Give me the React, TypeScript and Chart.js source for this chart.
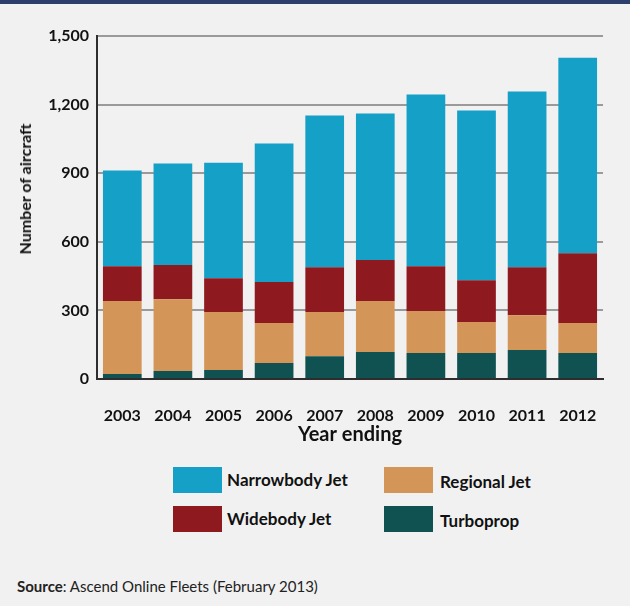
import React, { useEffect, useRef } from "react";
import { Chart, registerables } from "chart.js";

Chart.register(...registerables);

const years = ["2003", "2004", "2005", "2006", "2007", "2008", "2009", "2010", "2011", "2012"];
const turboprop = [22, 35, 39, 70, 100, 118, 114, 114, 127, 114];
const regionalJet = [319, 314, 254, 175, 193, 223, 183, 135, 152, 131];
const widebodyJet = [152, 149, 148, 179, 196, 179, 196, 183, 210, 305];
const narrowbodyJet = [419, 444, 505, 606, 663, 641, 751, 742, 768, 855];
const yTicks = [0, 300, 600, 900, 1200, 1500];

const COLORS = {
  narrow: "#14a0c7",
  regional: "#d49658",
  wide: "#8e191e",
  turbo: "#105252",
};

const FONT = "Lato, 'Open Sans', sans-serif";

export default function App() {
  const ref = useRef<HTMLCanvasElement>(null);

  useEffect(() => {
    if (!ref.current) return;
    const chart = new Chart(ref.current, {
      type: "bar",
      data: {
        labels: years,
        datasets: [
          { label: "Turboprop", data: turboprop, backgroundColor: COLORS.turbo },
          { label: "Regional Jet", data: regionalJet, backgroundColor: COLORS.regional },
          { label: "Widebody Jet", data: widebodyJet, backgroundColor: COLORS.wide },
          { label: "Narrowbody Jet", data: narrowbodyJet, backgroundColor: COLORS.narrow },
        ],
      },
      options: {
        responsive: false,
        animation: false,
        devicePixelRatio: 1,
        layout: { padding: { top: 36, right: 27, left: 0, bottom: 0 } },
        datasets: { bar: { categoryPercentage: 1, barPercentage: 0.765, borderWidth: 0 } },
        plugins: { legend: { display: false }, tooltip: { enabled: false } },
        scales: {
          x: {
            stacked: true,
            grid: { display: false },
            border: { display: true, color: "#2e2e2e", width: 2 },
            ticks: {
              color: "#111",
              padding: 19,
              font: { family: FONT, size: 16, weight: "bold" },
            },
            title: {
              display: true,
              text: "Year ending",
              color: "#111",
              font: { family: FONT, size: 20, weight: "bold" },
              padding: { top: 0, bottom: 3 },
            },
            afterFit: (s: any) => {
              s.height = 71;
            },
          },
          y: {
            stacked: true,
            min: 0,
            max: 1500,
            afterBuildTicks: (s: any) => {
              s.ticks = yTicks.map((v) => ({ value: v }));
            },
            grid: { color: "#9a9a9a", lineWidth: 2, drawTicks: false },
            border: { display: true, color: "#2e2e2e", width: 2 },
            ticks: {
              color: "#111",
              padding: 8,
              font: { family: FONT, size: 16, weight: "bold" },
              callback: (v: any) => Number(v).toLocaleString("en-US"),
            },
            title: { display: false },
            afterFit: (s: any) => {
              s.width = 97;
            },
          },
        },
      },
    });
    return () => chart.destroy();
  }, []);

  const legendItems = [
    { label: "Narrowbody Jet", color: COLORS.narrow, left: 173, top: 467, textLeft: 227 },
    { label: "Regional Jet", color: COLORS.regional, left: 384, top: 467, textLeft: 440 },
    { label: "Widebody Jet", color: COLORS.wide, left: 173, top: 506, textLeft: 227 },
    { label: "Turboprop", color: COLORS.turbo, left: 384, top: 506, textLeft: 440 },
  ];

  return (
    <div
      style={{
        position: "fixed",
        left: 0,
        top: 0,
        width: 630,
        height: 606,
        background: "#f1f1f1",
        overflow: "hidden",
        fontFamily: FONT,
      }}
    >
      <canvas
        ref={ref}
        width={630}
        height={450}
        style={{ position: "absolute", left: 0, top: 0, width: 630, height: 450 }}
      />
      <div style={{ position: "absolute", left: 0, top: 0, width: 630, height: 4, background: "#2c3e6c" }} />
      <div
        style={{
          position: "absolute",
          left: 25,
          top: 189,
          transform: "translate(-50%, -50%) rotate(-90deg)",
          fontSize: 16,
          fontWeight: "bold",
          color: "#111",
          whiteSpace: "nowrap",
          lineHeight: "20px",
        }}
      >
        Number of aircraft
      </div>
      {legendItems.map((it) => (
        <React.Fragment key={it.label}>
          <div
            style={{
              position: "absolute",
              left: it.left,
              top: it.top,
              width: 49,
              height: 26,
              background: it.color,
            }}
          />
          <div
            style={{
              position: "absolute",
              left: it.textLeft,
              top: it.top + (it.textLeft > 400 ? 2 : 0),
              height: 26,
              lineHeight: "26px",
              fontSize: 17,
              fontWeight: "bold",
              color: "#111",
              whiteSpace: "nowrap",
            }}
          >
            {it.label}
          </div>
        </React.Fragment>
      ))}
      <div
        style={{
          position: "absolute",
          left: 17,
          top: 576,
          fontSize: 15,
          lineHeight: "20px",
          color: "#222",
          whiteSpace: "nowrap",
        }}
      >
        <b>Source</b>: Ascend Online Fleets (February 2013)
      </div>
    </div>
  );
}
